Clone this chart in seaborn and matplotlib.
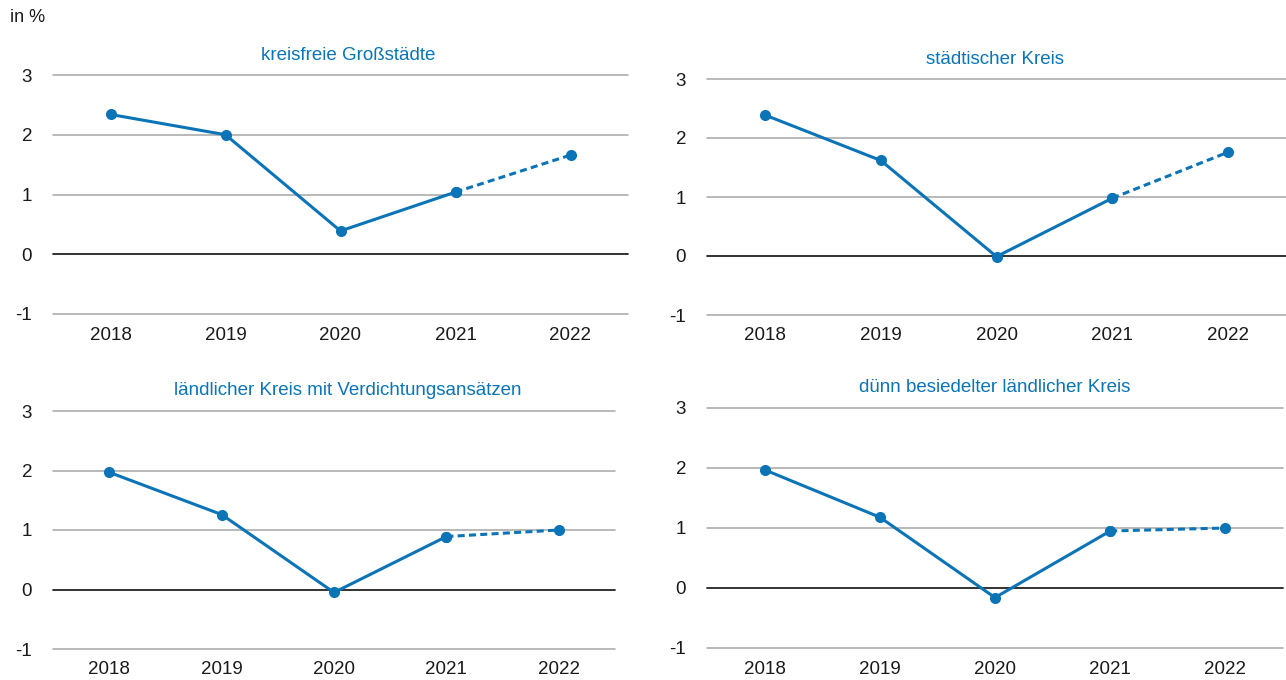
import matplotlib
matplotlib.use("Agg")
import matplotlib.pyplot as plt
import seaborn as sns
import pandas as pd

years = [2018, 2019, 2020, 2021, 2022]
titles = ["kreisfreie Großstädte", "städtischer Kreis",
          "ländlicher Kreis mit Verdichtungsansätzen", "dünn besiedelter ländlicher Kreis"]
grossstaedte = [2.34, 2.00, 0.39, 1.04, 1.66]
staedtisch = [2.39, 1.62, -0.01, 0.98, 1.76]
laendlich_verd = [1.97, 1.26, -0.05, 0.89, 1.00]
duenn = [1.97, 1.18, -0.16, 0.95, 1.00]
yticks = [-1, 0, 1, 2, 3]
series = [grossstaedte, staedtisch, laendlich_verd, duenn]

sns.set_theme(style="white")
plt.rcParams['font.family'] = ['Liberation Sans', 'DejaVu Sans']

BLUE = "#0b74b7"
fig = plt.figure(figsize=(12.86, 6.8), dpi=100)

# axes rectangles in pixels (left, top, right, bottom)
rects = [(53, 75, 628, 314), (707, 79, 1286, 315), (53, 411, 615, 649), (707, 408, 1283, 648)]
title_cx = [348, 995, 348, 995]
W, H = 1286, 680

for i, (vals, title, (l, t, r, b)) in enumerate(zip(series, titles, rects)):
    ax = fig.add_axes([l / W, 1 - b / H, (r - l) / W, (b - t) / H])
    df = pd.DataFrame({"Jahr": years, "Wert": vals})
    solid = df[df["Jahr"] <= 2021]
    dashed = df[df["Jahr"] >= 2021]
    for y in yticks:
        if y == 0:
            ax.axhline(y, color="#222222", lw=1.3, zorder=1, clip_on=False)
        else:
            ax.axhline(y, color="#a6a6a6", lw=1.1, zorder=1, clip_on=False)
    sns.lineplot(data=dashed, x="Jahr", y="Wert", ax=ax, color=BLUE, lw=2.2,
                 linestyle=(0, (2.3, 1.4)), marker="o", markersize=8,
                 markeredgewidth=0, zorder=3, clip_on=False)
    sns.lineplot(data=solid, x="Jahr", y="Wert", ax=ax, color=BLUE, lw=2.2,
                 marker="o", markersize=8, markeredgewidth=0, zorder=4, clip_on=False)
    ax.set_xlim(2017.5, 2022.5)
    ax.set_ylim(-1, 3)
    ax.set_xticks(years)
    ax.set_xticklabels([str(y) for y in years])
    ax.set_yticks(yticks)
    ax.set_yticklabels([str(y) for y in yticks])
    ax.set_xlabel("")
    ax.set_ylabel("")
    ax.tick_params(axis="both", length=0, labelsize=13.5, colors="#1a1a1a")
    ax.tick_params(axis="x", pad=9)
    ax.tick_params(axis="y", pad=15)
    for s in ax.spines.values():
        s.set_visible(False)
    ax.grid(False)
    ax.set_facecolor("none")
    fig.text(title_cx[i] / W, 1 - (t - 20) / H, title, color=BLUE, fontsize=13.5,
             ha="center", va="center")

fig.text(10 / W, 1 - 18 / H, "in %", fontsize=13, color="#1a1a1a", ha="left", va="center")

fig.savefig("out.png", dpi=100)
